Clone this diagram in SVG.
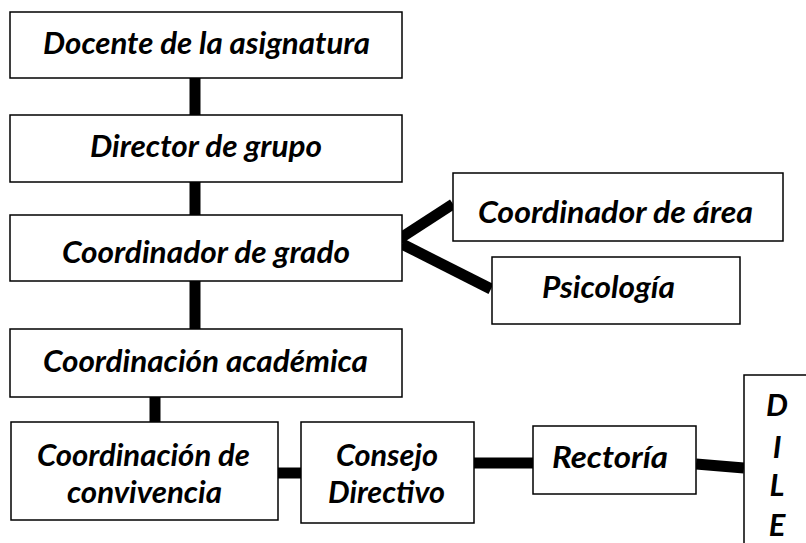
<svg xmlns="http://www.w3.org/2000/svg" width="806" height="543" viewBox="0 0 806 543">
<style>
.box{fill:#fff;stroke:#000;stroke-width:1.5}
.t{font-family:Lato,"Open Sans","Liberation Sans",sans-serif;font-style:italic;font-weight:700;font-size:31px;fill:#000}
.c{stroke:#000;stroke-width:11;stroke-linecap:butt;fill:none}
</style>
<rect width="806" height="543" fill="#fff"/>
<g id="connectors">
<line class="c" x1="195" y1="78" x2="195" y2="115"/>
<line class="c" x1="195" y1="182" x2="195" y2="215"/>
<line class="c" x1="195" y1="281" x2="195" y2="329"/>
<line class="c" x1="155" y1="389" x2="155" y2="423"/>
<line class="c" x1="278" y1="473" x2="301" y2="473"/>
<line class="c" x1="474" y1="463" x2="533" y2="463"/>
<line class="c" x1="696" y1="464" x2="744" y2="468"/>
<line class="c" x1="399" y1="239" x2="453" y2="204"/>
<line class="c" x1="402" y1="244" x2="491" y2="289"/>
</g>
<g id="docente">
<rect class="box" x="10" y="12" width="392" height="66"/>
<text class="t" x="43" y="54" textLength="327" lengthAdjust="spacingAndGlyphs">Docente de la asignatura</text>
</g>
<g id="director">
<rect class="box" x="10" y="115" width="392" height="67"/>
<text class="t" x="90" y="157" textLength="232" lengthAdjust="spacingAndGlyphs">Director de grupo</text>
</g>
<g id="coord-grado">
<rect class="box" x="10" y="215" width="392" height="66"/>
<text class="t" x="62" y="263" textLength="288" lengthAdjust="spacingAndGlyphs">Coordinador de grado</text>
</g>
<g id="coord-area">
<rect class="box" x="453" y="173" width="330" height="68"/>
<text class="t" x="478" y="223" textLength="275" lengthAdjust="spacingAndGlyphs">Coordinador de área</text>
</g>
<g id="psicologia">
<rect class="box" x="492" y="257" width="248" height="67"/>
<text class="t" x="542" y="298" textLength="133" lengthAdjust="spacingAndGlyphs">Psicología</text>
</g>
<g id="coord-academica">
<rect class="box" x="10" y="329" width="392" height="68"/>
<text class="t" x="43" y="372" textLength="325" lengthAdjust="spacingAndGlyphs">Coordinación académica</text>
</g>
<g id="coord-convivencia">
<rect class="box" x="11" y="422" width="267" height="98"/>
<text class="t" x="37" y="466" textLength="213" lengthAdjust="spacingAndGlyphs">Coordinación de</text>
<text class="t" x="67" y="503" textLength="155" lengthAdjust="spacingAndGlyphs">convivencia</text>
</g>
<g id="consejo">
<rect class="box" x="301" y="422" width="173" height="101"/>
<text class="t" x="336" y="466" textLength="102" lengthAdjust="spacingAndGlyphs">Consejo</text>
<text class="t" x="328" y="503" textLength="117" lengthAdjust="spacingAndGlyphs">Directivo</text>
</g>
<g id="rectoria">
<rect class="box" x="533" y="426" width="163" height="68"/>
<text class="t" x="552" y="468" textLength="116" lengthAdjust="spacingAndGlyphs">Rectoría</text>
</g>
<g id="dile">
<path class="box" d="M808 375 H744 V545" fill="none"/>
<text class="t" x="777" y="416" text-anchor="middle">D</text>
<text class="t" x="777" y="458" text-anchor="middle">I</text>
<text class="t" x="777" y="496" text-anchor="middle">L</text>
<text class="t" x="777" y="536" text-anchor="middle">E</text>
</g>
</svg>
